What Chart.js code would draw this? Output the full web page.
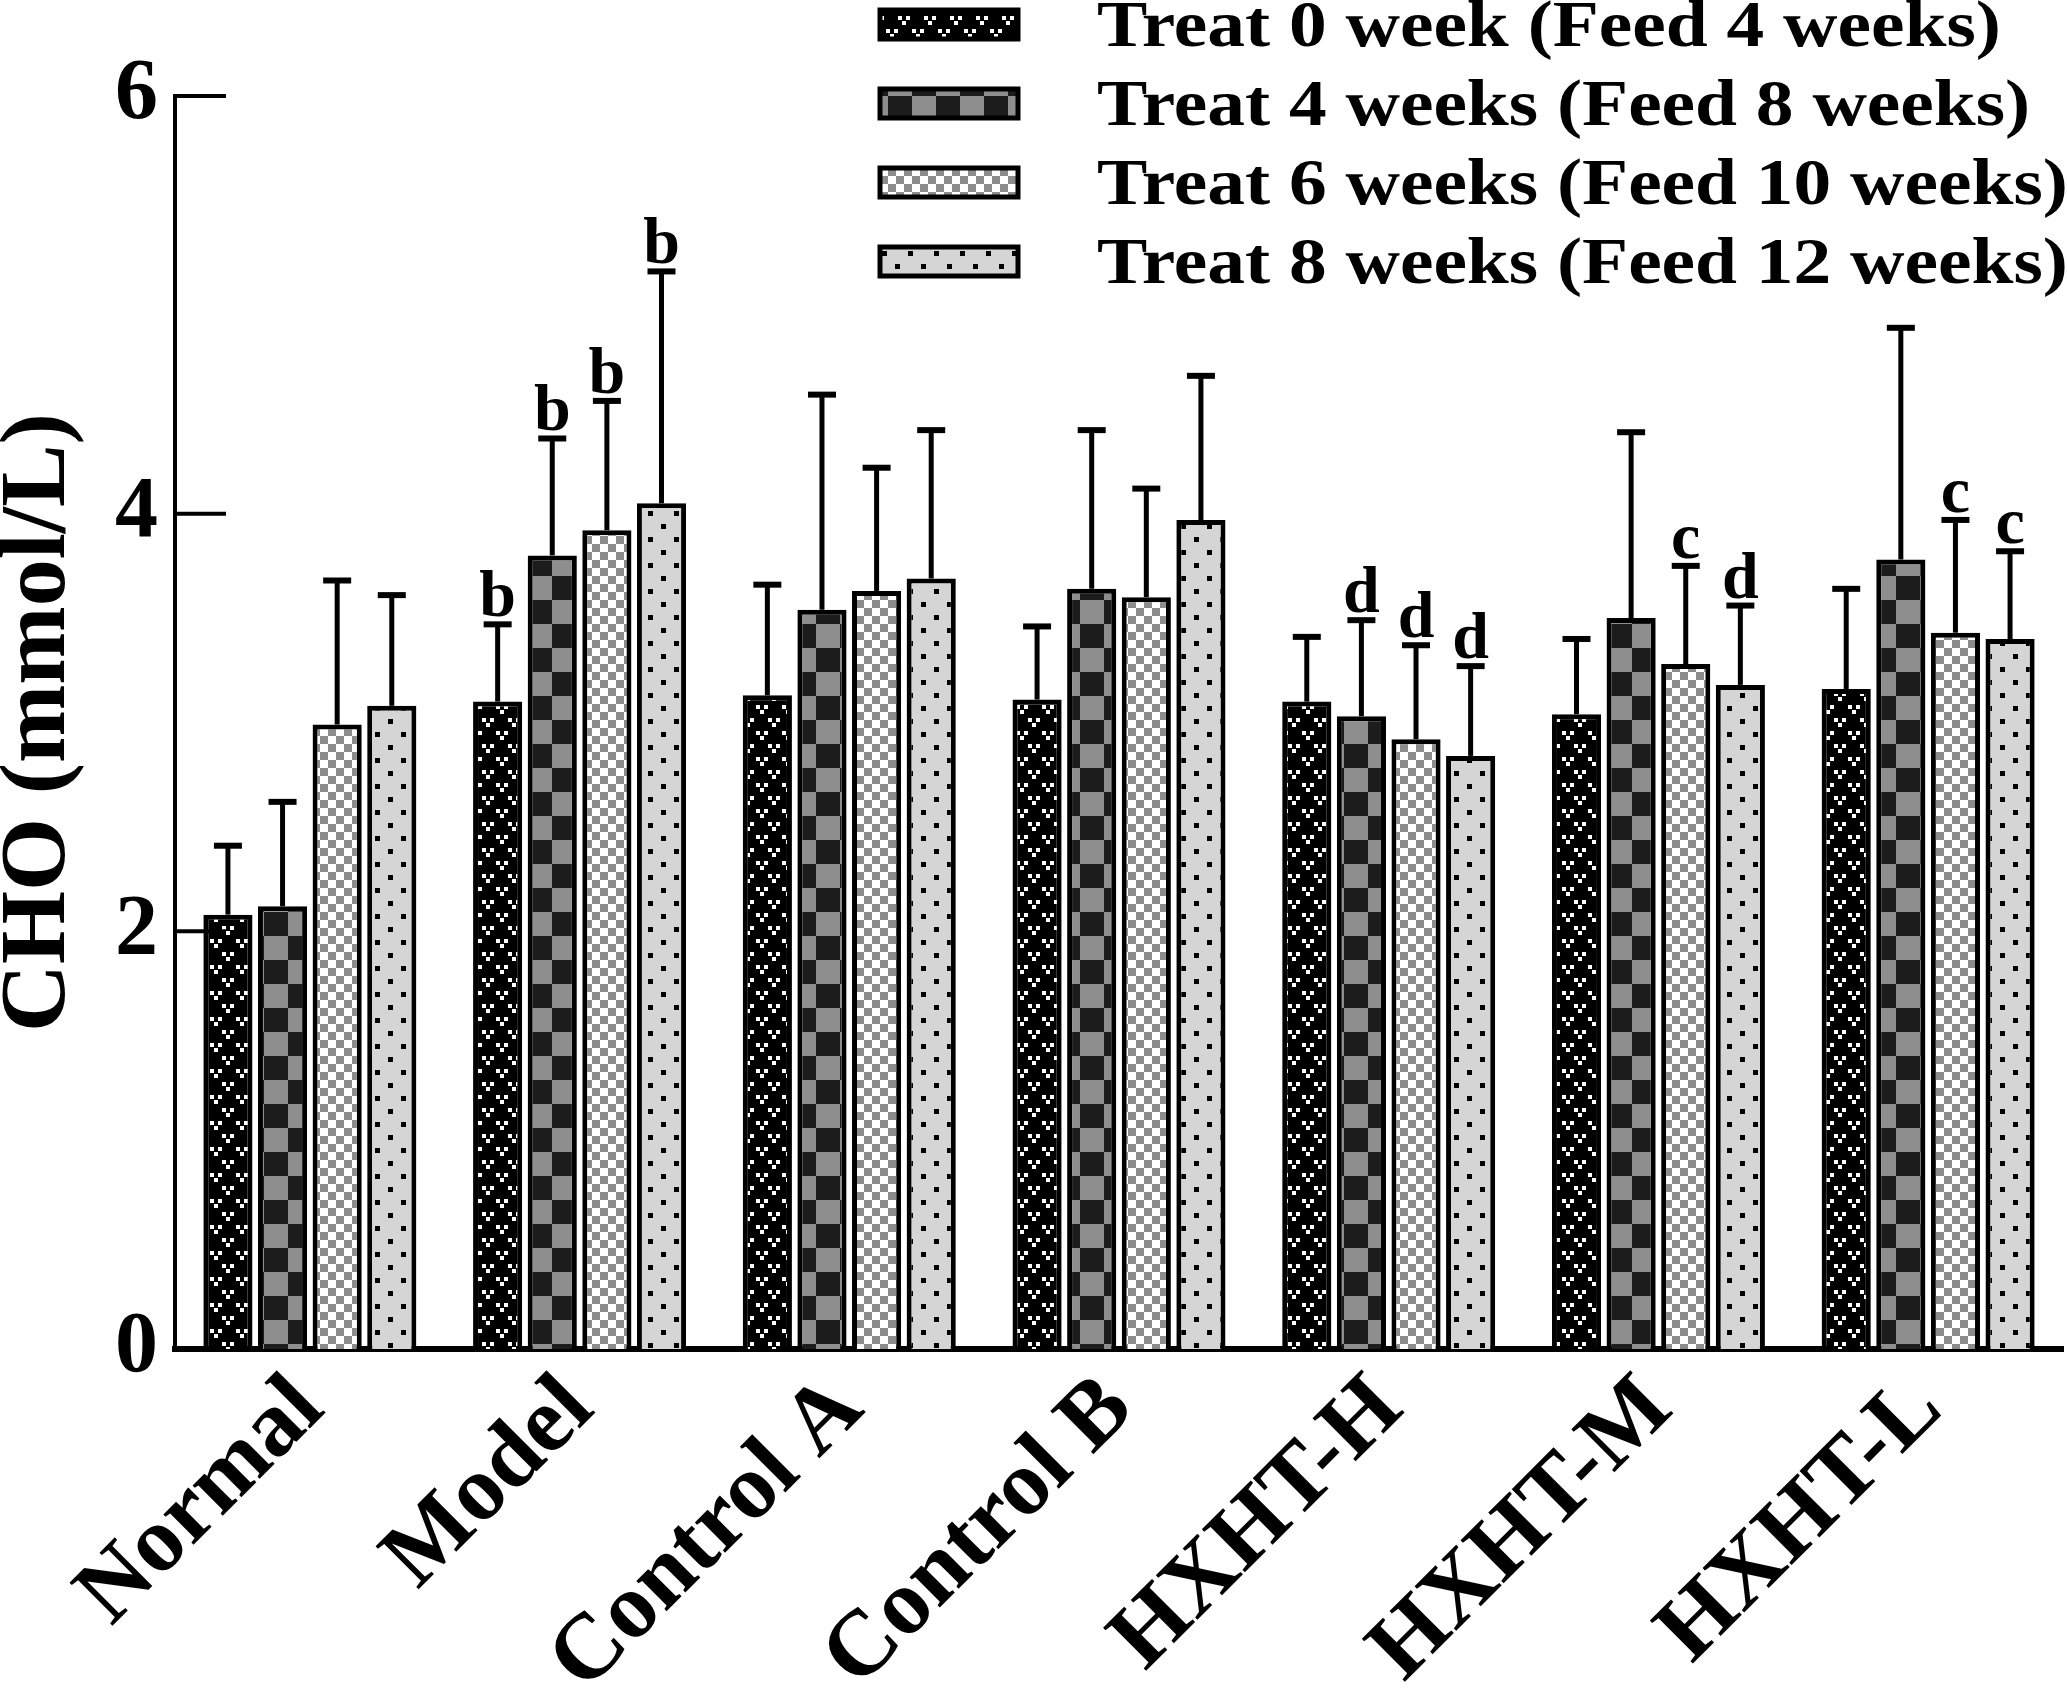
<!DOCTYPE html>
<html lang="en">
<head>
<meta charset="UTF-8">
<title>CHO (mmol/L)</title>
<script src="https://cdn.jsdelivr.net/npm/chart.js@4.4.1/dist/chart.umd.min.js"></script>
<style>
  html, body { margin: 0; padding: 0; background: #fff; overflow: hidden; }
  .chart-box { position: relative; width: 2067px; height: 1698px; }
</style>
</head>
<body>
<div class="chart-box"><canvas id="choChart"></canvas></div>
<script>
// groups on the x axis
const groups = ['Normal', 'Model', 'Control A', 'Control B', 'HXHT-H', 'HXHT-M', 'HXHT-L'];
const seriesNames = [
  'Treat 0 week (Feed 4 weeks)',
  'Treat 4 weeks (Feed 8 weeks)',
  'Treat 6 weeks (Feed 10 weeks)',
  'Treat 8 weeks (Feed 12 weeks)'
];

// mean values (mmol/L)
const treat0 = [2.08, 3.10, 3.13, 3.11, 3.10, 3.04, 3.16];
const treat4 = [2.12, 3.80, 3.54, 3.64, 3.03, 3.50, 3.78];
const treat6 = [2.99, 3.92, 3.63, 3.60, 2.92, 3.28, 3.43];
const treat8 = [3.08, 4.05, 3.69, 3.97, 2.84, 3.18, 3.40];

// upper error (SD)
const sd0 = [0.33, 0.37, 0.53, 0.35, 0.31, 0.36, 0.48];
const sd4 = [0.50, 0.56, 1.03, 0.76, 0.46, 0.89, 1.11];
const sd6 = [0.69, 0.62, 0.59, 0.52, 0.45, 0.47, 0.54];
const sd8 = [0.53, 1.11, 0.71, 0.69, 0.43, 0.38, 0.42];

// significance letters
const sig0 = ['', 'b', '', '', '', '', ''];
const sig4 = ['', 'b', '', '', 'd', '', ''];
const sig6 = ['', 'b', '', '', 'd', 'c', 'c'];
const sig8 = ['', 'b', '', '', 'd', 'd', 'c'];

const yTickValues = [0, 2, 4, 6];

const sdSets = [sd0, sd4, sd6, sd8];
const sigSets = [sig0, sig4, sig6, sig8];
const FONT = "'Liberation Serif', 'Times New Roman', serif";

const canvas = document.getElementById('choChart');
const ctx = canvas.getContext('2d');

function makePattern(w, h, draw) {
  const c = document.createElement('canvas');
  c.width = w; c.height = h;
  draw(c.getContext('2d'));
  return ctx.createPattern(c, 'repeat');
}

// black with white "v" marks
const pat0 = makePattern(26, 26, g => {
  g.fillStyle = '#000'; g.fillRect(0, 0, 26, 26);
  g.fillStyle = '#fff';
  [[2, 3], [14, 16]].forEach(([x, y]) => {
    g.fillRect(x, y, 4, 4); g.fillRect(x + 8, y, 4, 4); g.fillRect(x + 4, y + 5, 4, 4);
  });
});
// dark / grey big checker
const pat4 = makePattern(48, 48, g => {
  g.fillStyle = '#8e8e8e'; g.fillRect(0, 0, 48, 48);
  g.fillStyle = '#1c1c1c'; g.fillRect(24, 0, 24, 24); g.fillRect(0, 24, 24, 24);
});
// white / grey small checker
const pat6 = makePattern(16, 16, g => {
  g.fillStyle = '#fff'; g.fillRect(0, 0, 16, 16);
  g.fillStyle = '#8c8c8c'; g.fillRect(0, 0, 8, 8); g.fillRect(8, 8, 8, 8);
});
// light grey with black dots
const pat8 = makePattern(26, 26, g => {
  g.fillStyle = '#d5d5d5'; g.fillRect(0, 0, 26, 26);
  g.fillStyle = '#000';
  g.fillRect(11, 4, 5, 5);
  g.fillRect(-2, 17, 5, 5); g.fillRect(24, 17, 5, 5);
});
const patterns = [pat0, pat4, pat6, pat8];

const errorBars = {
  id: 'errorBars',
  afterDatasetsDraw(chart) {
    const c = chart.ctx;
    const y = chart.scales.y;
    c.save();
    c.strokeStyle = '#000';
    c.fillStyle = '#000';
    c.font = 'bold 66px ' + FONT;
    c.textAlign = 'center';
    c.textBaseline = 'alphabetic';
    chart.data.datasets.forEach((ds, di) => {
      chart.getDatasetMeta(di).data.forEach((bar, i) => {
        const top = y.getPixelForValue(ds.data[i] + sdSets[di][i]);
        c.lineWidth = 5;
        c.beginPath();
        c.moveTo(bar.x, bar.y);
        c.lineTo(bar.x, top);
        c.stroke();
        c.lineWidth = 6;
        c.beginPath();
        c.moveTo(bar.x - 14, top);
        c.lineTo(bar.x + 14, top);
        c.stroke();
        const letter = sigSets[di][i];
        if (letter) c.fillText(letter, bar.x, top - 8);
      });
    });
    c.restore();
  }
};

// inward y ticks + legend
const extras = {
  id: 'extras',
  afterDraw(chart) {
    const c = chart.ctx;
    const y = chart.scales.y;
    const left = chart.chartArea.left;
    c.save();
    c.strokeStyle = '#000';
    c.lineWidth = 4;
    yTickValues.forEach(v => {
      const py = y.getPixelForValue(v);
      c.beginPath(); c.moveTo(left, py); c.lineTo(left + 51, py); c.stroke();
    });

    seriesNames.forEach((name, i) => {
      const cy = 24 + i * 79;
      c.fillStyle = patterns[i];
      c.fillRect(880, cy - 14, 138, 29);
      c.lineWidth = 5;
      c.strokeRect(880, cy - 14, 138, 29);
      c.save();
      c.scale(1.16, 1);
      c.fillStyle = '#000';
      c.font = 'bold 65px ' + FONT;
      c.textAlign = 'left';
      c.textBaseline = 'middle';
      c.fillText(name, 1097 / 1.16, cy + 5);
      c.restore();
    });
    c.restore();
  }
};

new Chart(ctx, {
  type: 'bar',
  data: {
    labels: groups,
    datasets: [treat0, treat4, treat6, treat8].map((vals, i) => ({
      label: seriesNames[i],
      data: vals,
      backgroundColor: patterns[i],
      borderColor: '#000',
      borderWidth: 5,
      borderSkipped: 'bottom',
      categoryPercentage: 0.81,
      barPercentage: 0.9
    }))
  },
  options: {
    responsive: true,
    maintainAspectRatio: false,
    animation: false,
    devicePixelRatio: 1,
    layout: { padding: { top: 96, right: 4, left: 0, bottom: 0 } },
    plugins: { legend: { display: false }, tooltip: { enabled: false } },
    scales: {
      x: {
        grid: { display: false, drawTicks: false },
        border: { display: true, color: '#000', width: 6 },
        ticks: {
          color: '#000',
          font: { family: FONT, size: 93, weight: 'bold' },
          maxRotation: 45, minRotation: 45, autoSkip: false, padding: 6
        },
        afterFit(s) { s.height = 349; }
      },
      y: {
        min: 0, max: 6,
        grid: { display: false, drawTicks: false },
        border: { display: true, color: '#000', width: 4 },
        afterBuildTicks(s) { s.ticks = yTickValues.map(v => ({ value: v })); },
        ticks: { color: '#000', font: { family: FONT, size: 86, weight: 'bold' }, padding: 17 },
        title: {
          display: true, text: 'CHO (mmol/L)', color: '#000',
          font: { family: FONT, size: 94, weight: 'bold', lineHeight: 0.85 },
          padding: { top: 0, bottom: 0 }
        },
        afterFit(s) { s.width = 175; }
      }
    }
  },
  plugins: [errorBars, extras]
});
</script>
</body>
</html>
